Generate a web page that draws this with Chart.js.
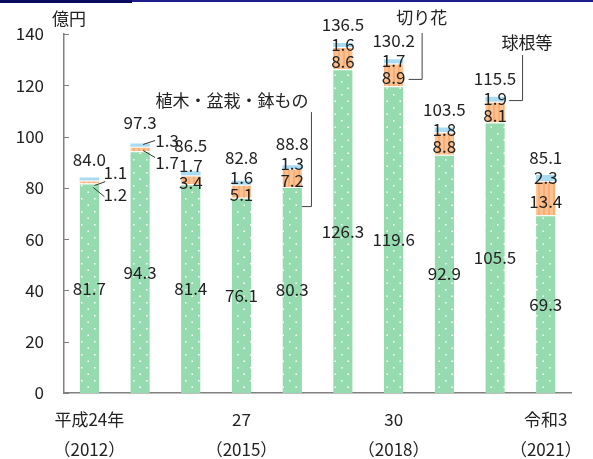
<!DOCTYPE html>
<html>
<head>
<meta charset="utf-8">
<script src="https://cdn.jsdelivr.net/npm/chart.js@4/dist/chart.umd.min.js"></script>
<style>
  body { margin: 0; background: #fff; }
  #wrap { position: relative; width: 593px; height: 459px; }
  #topline { position: absolute; left: 0; top: 0; width: 593px; height: 2px; background: #1c1c8a; }
  #topline2 { position: absolute; left: 0; top: 0; width: 132px; height: 3px; background: #0a0a5e; }
</style>
</head>
<body>
<div id="wrap">
  <canvas id="myChart" width="593" height="459"></canvas>
  <div id="topline"></div><div id="topline2"></div>
</div>
<script>
var categories = ['2012', '2013', '2014', '2015', '2016', '2017', '2018', '2019', '2020', '2021'];
var tickLabels = [['平成24年', '（2012）'], '', '', ['27', '（2015）'], '', '', ['30', '（2018）'], '', '', ['令和3', '（2021）']];
var plants = [81.7, 94.3, 81.4, 76.1, 80.3, 126.3, 119.6, 92.9, 105.5, 69.3];
var cutFlowers = [1.2, 1.7, 3.4, 5.1, 7.2, 8.6, 8.9, 8.8, 8.1, 13.4];
var bulbs = [1.1, 1.3, 1.7, 1.6, 1.3, 1.6, 1.7, 1.8, 1.9, 2.3];
var totals = [84.0, 97.3, 86.5, 82.8, 88.8, 136.5, 130.2, 103.5, 115.5, 85.1];
var yTicks = [0, 20, 40, 60, 80, 100, 120, 140];

var FONT = "'Noto Sans CJK JP', 'Noto Sans', sans-serif";
var TXT = '#222';

function dotPattern() {
    var c = document.createElement('canvas');
    c.width = 13; c.height = 13;
    var x = c.getContext('2d');
    x.fillStyle = '#96dbb0';
    x.fillRect(0, 0, 13, 13);
    x.fillStyle = '#ffffff';
    x.fillRect(3, 3, 1.5, 1.5);
    x.fillRect(9.5, 9.5, 1.5, 1.5);
    return x.createPattern(c, 'repeat');
}
function stripePattern() {
    var c = document.createElement('canvas');
    c.width = 5; c.height = 5;
    var x = c.getContext('2d');
    x.fillStyle = '#fdc291';
    x.fillRect(0, 0, 5, 5);
    x.fillStyle = '#f8ae74';
    x.fillRect(3, 0, 2, 5);
    return x.createPattern(c, 'repeat');
}

function fmt(v) { return v.toFixed(1); }

var labelPlugin = {
    id: 'labels',
    afterDatasetsDraw: function (chart) {
        var ctx = chart.ctx;
        var m0 = chart.getDatasetMeta(0), m1 = chart.getDatasetMeta(1), m2 = chart.getDatasetMeta(2);
        var ys = chart.scales.y;
        ctx.save();
        // y tick marks (inside)
        ctx.strokeStyle = '#808080';
        ctx.lineWidth = 1;
        for (var t = 0; t < yTicks.length; t++) {
            var py = Math.round(ys.getPixelForValue(yTicks[t])) + 0.5;
            ctx.beginPath();
            ctx.moveTo(ys.right, py);
            ctx.lineTo(ys.right + 5, py);
            ctx.stroke();
        }
        ctx.font = '17px ' + FONT;
        ctx.fillStyle = TXT;
        ctx.textAlign = 'center';
        ctx.textBaseline = 'middle';
        ctx.fillText('億円', ys.right + 5, 19);

        ctx.strokeStyle = '#333';
        for (var i = 0; i < categories.length; i++) {
            var g = m0.data[i], o = m1.data[i], b = m2.data[i];
            ctx.fillText(fmt(plants[i]), g.x, (g.y + g.base) / 2);
            if (i === 0) {
                ctx.fillText(fmt(totals[i]), g.x, b.y - 18);
                ctx.fillText(fmt(bulbs[i]), g.x + 26, b.y - 5);
                ctx.fillText(fmt(cutFlowers[i]), g.x + 26, b.y + 17);
                ctx.beginPath();
                ctx.moveTo(g.x + 5, b.y + 8); ctx.lineTo(g.x + 16, b.y + 4);
                ctx.moveTo(g.x + 4, b.y + 10); ctx.lineTo(g.x + 15, b.y + 19);
                ctx.stroke();
            } else if (i === 1) {
                ctx.fillText(fmt(totals[i]), g.x, b.y - 21);
                ctx.fillText(fmt(bulbs[i]), g.x + 27, b.y - 3);
                ctx.fillText(fmt(cutFlowers[i]), g.x + 27, b.y + 19);
                ctx.beginPath();
                ctx.moveTo(g.x + 3, b.y + 1); ctx.lineTo(g.x + 15, b.y - 3);
                ctx.moveTo(g.x + 3, b.y + 7); ctx.lineTo(g.x + 15, b.y + 14);
                ctx.stroke();
            } else {
                var oy = (o.y + o.base) / 2 + 3;
                var by = Math.min((b.y + b.base) / 2, oy - 17);
                ctx.fillText(fmt(cutFlowers[i]), o.x, oy);
                ctx.fillText(fmt(bulbs[i]), b.x, by);
                ctx.fillText(fmt(totals[i]), b.x, by - 20);
            }
        }

        // series callouts
        ctx.strokeStyle = '#444';
        var g4 = m0.data[4];
        var r4 = g4.x + g4.width / 2;
        ctx.beginPath();
        ctx.moveTo(r4, g4.y + 19.5); ctx.lineTo(r4 + 9.5, g4.y + 19.5); ctx.lineTo(r4 + 9.5, g4.y - 75);
        ctx.stroke();
        ctx.fillText('植木・盆栽・鉢もの', r4 - 70, g4.y - 87);

        var o6 = m1.data[6];
        var oy6 = (o6.y + o6.base) / 2 + 4;
        ctx.beginPath();
        ctx.moveTo(o6.x + 15, oy6 + 0.5); ctx.lineTo(o6.x + 28.5, oy6 + 0.5); ctx.lineTo(o6.x + 28.5, 33);
        ctx.stroke();
        ctx.fillText('切り花', o6.x + 28, 18);

        var o8 = m1.data[8], b8 = m2.data[8];
        var by8 = Math.min((b8.y + b8.base) / 2, (o8.y + o8.base) / 2 + 3 - 17) + 2;
        ctx.beginPath();
        ctx.moveTo(b8.x + 14, by8 + 0.5); ctx.lineTo(b8.x + 27.5, by8 + 0.5); ctx.lineTo(b8.x + 27.5, 55);
        ctx.stroke();
        ctx.fillText('球根等', b8.x + 32, 43);
        ctx.restore();
    }
};

var ctx = document.getElementById('myChart').getContext('2d');
var myChart = new Chart(ctx, {
    type: 'bar',
    data: {
        labels: categories,
        datasets: [
            { label: '植木・盆栽・鉢もの', data: plants, backgroundColor: dotPattern(), borderColor: '#fff', borderWidth: { top: 1, left: 0, right: 0, bottom: 0 }, borderSkipped: false },
            { label: '切り花', data: cutFlowers, backgroundColor: stripePattern(), borderColor: '#fff', borderWidth: { top: 1, left: 0, right: 0, bottom: 0 }, borderSkipped: false },
            { label: '球根等', data: bulbs, backgroundColor: '#a9dcf3', borderWidth: 0 }
        ]
    },
    options: {
        responsive: false,
        animation: false,
        events: [],
        layout: { padding: { top: 34, right: 7, left: 0, bottom: 0 } },
        datasets: { bar: { categoryPercentage: 1, barPercentage: 0.384 } },
        plugins: { legend: { display: false }, tooltip: { enabled: false } },
        scales: {
            x: {
                stacked: true,
                grid: { display: false, drawTicks: false },
                border: { color: '#808080', width: 1.5 },
                ticks: {
                    autoSkip: false, maxRotation: 0, padding: 11, color: TXT,
                    font: { family: FONT, size: 17, lineHeight: 1.8 },
                    callback: function (v, i) { return tickLabels[i]; }
                },
                afterFit: function (s) { s.height = 66; }
            },
            y: {
                stacked: true,
                min: 0, max: 140,
                afterBuildTicks: function (s) { s.ticks = yTicks.map(function (v) { return { value: v }; }); },
                grid: { display: false, drawTicks: false },
                border: { color: '#808080', width: 1.5 },
                ticks: { padding: 20, color: TXT, font: { family: FONT, size: 17 } },
                afterFit: function (s) { s.width = 64; }
            }
        }
    },
    plugins: [labelPlugin]
});
</script>
</body>
</html>
